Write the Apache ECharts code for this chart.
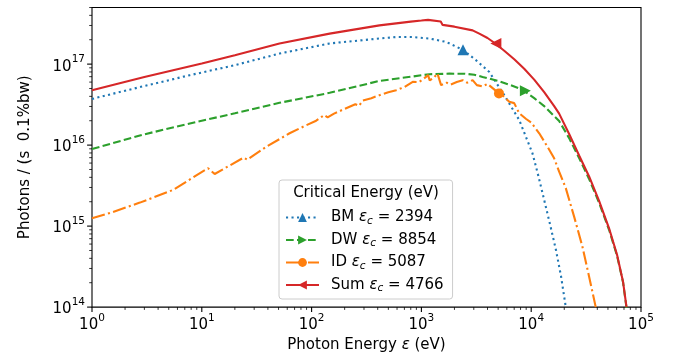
<!DOCTYPE html>
<html>
<head>
<meta charset="utf-8">
<script src="https://cdn.jsdelivr.net/npm/echarts@6/dist/echarts.min.js"></script>
<style>html,body{margin:0;padding:0;background:#fff;}#c{width:673px;height:358px;}</style>
</head>
<body>
<div id="c"></div>
<script>
// ---- Data (photon energy in eV, photons/(s 0.1%bw)) ----
const bmData = [
  [1, 3.72e16], [3, 5.37e16], [7.78, 7.3e16], [20, 9.7e16], [51, 1.35e17], [146, 1.8e17],
  [415, 2.07e17], [589, 2.16e17], [834, 2.16e17], [1183, 2.07e17], [1678, 1.88e17],
  [2394, 1.5e17], [3135, 1.12e17], [4150, 8.0e16], [5685, 4.14e16], [7780, 2.04e16],
  [10280, 7.9e15], [11600, 4.2e15], [13120, 2.11e15], [14800, 1.07e15], [16790, 5.1e14],
  [18700, 2.4e14], [20650, 1.0e14]
];
const dwData = [
  [1, 8.96e15], [3, 1.36e16], [7.78, 1.85e16], [20, 2.47e16], [51, 3.33e16], [146, 4.42e16],
  [415, 6.2e16], [1183, 7.5e16], [1800, 7.62e16], [2500, 7.6e16], [3033, 7.4e16], [3606, 6.95e16],
  [5000, 6.2e16], [6500, 5.5e16], [8280, 4.84e16], [10650, 3.8e16], [13130, 3.03e16],
  [16190, 2.28e16], [17970, 1.98e16], [22160, 1.22e16], [27320, 6.93e15], [33680, 3.82e15],
  [41520, 1.94e15], [51190, 9.0e14], [60510, 4.31e14], [68610, 2.03e14], [73800, 0.98e14]
];
const idData = [
  [1, 1.25e15], [1.5, 1.47e15], [2.73, 1.95e15], [5.49, 2.8e15], [8.1, 3.9e15], [11.4, 5.18e15],
  [13.1, 4.4e15], [24, 7.0e15], [26, 6.6e15], [38.7, 9.55e15], [63, 1.4e16], [77.8, 1.61e16],
  [110, 2.0e16], [130, 2.35e16], [140, 2.2e16], [160, 2.45e16], [200, 2.8e16], [250, 3.2e16],
  [270, 3.05e16], [293, 3.55e16], [350, 3.8e16], [415, 4.14e16], [500, 4.5e16], [589, 4.77e16],
  [700, 5.2e16], [834, 6.04e16], [950, 6.0e16], [1050, 6.6e16], [1150, 7.3e16], [1190, 6.3e16],
  [1300, 6.8e16], [1400, 7.66e16], [1511, 5.5e16], [1700, 5.9e16], [1850, 5.6e16], [2100, 6.0e16],
  [2375, 6.34e16], [2600, 5.9e16], [2927, 6.34e16], [3200, 5.5e16], [3600, 5.3e16], [4000, 5.7e16],
  [5087, 4.35e16], [5500, 4.1e16], [6310, 3.42e16], [7000, 3.3e16], [7780, 2.47e16], [9000, 2.1e16],
  [10000, 1.9e16], [11830, 1.4e16], [14070, 9.55e15], [16180, 6.87e15], [17970, 4.7e15],
  [20650, 2.94e15], [24600, 1.31e15], [29240, 5.61e14], [33650, 2.39e14], [38700, 1.0e14]
];
const sumData = [
  [1, 4.77e16], [3, 6.92e16], [10, 1.02e17], [20, 1.29e17], [51, 1.8e17], [146, 2.38e17],
  [415, 3.01e17], [800, 3.35e17], [1000, 3.45e17], [1150, 3.52e17], [1190, 3.42e17], [1500, 3.36e17],
  [1560, 3.05e17], [2000, 2.9e17], [2927, 2.61e17], [3366, 2.38e17], [4000, 2.1e17], [4610, 1.835e17],
  [5682, 1.462e17], [7007, 1.148e17], [8637, 8.77e16], [10650, 6.43e16], [13130, 4.51e16],
  [16190, 3.03e16], [17970, 2.45e16], [22160, 1.37e16], [27320, 7.45e15], [33680, 4.1e15],
  [41520, 2.05e15], [51190, 9.4e14], [60510, 4.43e14], [68610, 2.06e14], [73800, 1.0e14]
];
// critical-energy markers
const seriesNames = ['BM', 'DW', 'ID', 'Sum'];
const criticalE = [2394, 8854, 5087, 4766];
const markerF = [1.5e17, 4.7e16, 4.35e16, 1.8e17];

// axis ranges / tick values
const xMin = 1, xMax = 1e5, yMin = 1e14, yMax = 5e17;
const xMajor = [1, 10, 100, 1000, 10000, 100000];
const yMajor = [1e14, 1e15, 1e16, 1e17];
const minorMult = [2, 3, 4, 5, 6, 7, 8, 9];

const colors = ['#1f77b4', '#2ca02c', '#ff7f0e', '#d62728'];
const FONT = 'DejaVu Sans';
const FS = 15, FSS = 10.5;

const xTicks = [];
xMajor.forEach(v => xTicks.push([v, yMin, 1]));
xMajor.slice(0, -1).forEach(d => minorMult.forEach(m => xTicks.push([d * m, yMin, 0])));
const yTicks = [];
yMajor.forEach(v => yTicks.push([xMin, v, 1]));
yMajor.forEach(d => minorMult.forEach(m => { if (d * m <= yMax) yTicks.push([xMin, d * m, 0]); }));

function tickRenderer(isX) {
  return function (params, api) {
    const cs = params.coordSys;
    const major = api.value(2) === 1;
    const len = major ? 4.9 : 2.8;
    const lw = major ? 1.1 : 0.8;
    if (isX) {
      const px = api.coord([api.value(0), yMin])[0];
      const y0 = cs.y + cs.height;
      return { type: 'line', shape: { x1: px, y1: y0, x2: px, y2: y0 + len }, style: { stroke: '#000', lineWidth: lw } };
    } else {
      const py = api.coord([xMin, api.value(1)])[1];
      const x0 = cs.x;
      return { type: 'line', shape: { x1: x0, y1: py, x2: x0 - len, y2: py }, style: { stroke: '#000', lineWidth: lw } };
    }
  };
}

function powLabel(v) {
  const e = Math.round(Math.log10(v));
  return '{b|10}{s|' + e + '}';
}
const powRich = {
  b: { fontFamily: FONT, fontSize: FS, color: '#000', verticalAlign: 'bottom', lineHeight: 20 },
  s: { fontFamily: FONT, fontSize: FSS, color: '#000', verticalAlign: 'top', lineHeight: 20 }
};

const legendLabels = {
  BM: '{n|BM }{e|ε}{c|c}{n| = 2394}',
  DW: '{n|DW }{e|ε}{c|c}{n| = 8854}',
  ID: '{n|ID }{e|ε}{c|c}{n| = 5087}',
  Sum: '{n|Sum }{e|ε}{c|c}{n| = 4766}'
};

const lineTypes = [[2.1, 3.4], [7.7, 3.3], [13.3, 3.3, 2.1, 3.3], 'solid'];
const symbols = ['triangle', 'triangle', 'circle', 'triangle'];
const rotations = [0, -90, 0, 90];
const datasets = [bmData, dwData, idData, sumData];

const lineSeries = seriesNames.map((name, i) => ({
  name: name,
  type: 'line',
  data: datasets[i],
  showSymbol: false,
  symbol: symbols[i],
  symbolSize: 10,
  symbolRotate: rotations[i],
  smooth: false,
  z: i === 3 ? 3 : 2,
  lineStyle: { color: colors[i], width: 2.1, type: lineTypes[i] },
  itemStyle: { color: colors[i] },
  markPoint: {
    symbol: symbols[i],
    symbolSize: i === 2 ? 10 : 11,
    symbolRotate: rotations[i],
    label: { show: false },
    itemStyle: { color: colors[i] },
    data: [{ coord: [criticalE[i], markerF[i]] }]
  }
}));

const chart = echarts.init(document.getElementById('c'), null, { renderer: 'canvas' });
chart.setOption({
  animation: false,
  backgroundColor: '#fff',
  grid: { left: 92, right: 32, top: 7.5, bottom: 50.5, show: true, borderColor: '#000', borderWidth: 1.1, backgroundColor: 'transparent' },
  xAxis: {
    type: 'log', logBase: 10, min: xMin, max: xMax,
    name: '{n|Photon Energy }{e|ε}{n| (eV)}', nameLocation: 'middle', nameGap: 29,
    nameTextStyle: { rich: { n: { fontFamily: FONT, fontSize: FS, color: '#000' }, e: { fontFamily: FONT, fontSize: FS, fontStyle: 'italic', color: '#000' } } },
    axisLine: { show: false }, axisTick: { show: false }, splitLine: { show: false }, minorTick: { show: false },
    axisLabel: { formatter: powLabel, rich: powRich, margin: 6 }
  },
  yAxis: {
    type: 'log', logBase: 10, min: yMin, max: yMax,
    name: 'Photons / (s  0.1%bw)', nameLocation: 'middle', nameGap: 59,
    nameTextStyle: { fontFamily: FONT, fontSize: FS, color: '#000' },
    axisLine: { show: false }, axisTick: { show: false }, splitLine: { show: false }, minorTick: { show: false },
    axisLabel: { formatter: powLabel, rich: powRich, margin: 7, showMaxLabel: false }
  },
  legend: {
    orient: 'vertical', left: 279, top: 180,
    padding: [30, 9, 5, 6], itemWidth: 33, itemHeight: 11, itemGap: 6,
    backgroundColor: 'rgba(255,255,255,0.8)', borderColor: '#cccccc', borderWidth: 1, borderRadius: 3,
    data: seriesNames,
    formatter: name => legendLabels[name],
    textStyle: {
      fontFamily: FONT, fontSize: FS, color: '#000',
      rich: {
        n: { fontFamily: FONT, fontSize: FS, color: '#000' },
        e: { fontFamily: FONT, fontSize: FS, fontStyle: 'italic', color: '#000' },
        c: { fontFamily: FONT, fontSize: FSS, fontStyle: 'italic', color: '#000', verticalAlign: 'bottom', padding: [7, 0, 0, 0] }
      },
      padding: [0, 0, 0, 7]
    }
  },
  graphic: [{
    type: 'text', x: 366, y: 193, z: 100,
    style: { text: 'Critical Energy (eV)', font: FS + 'px "DejaVu Sans"', fill: '#000', align: 'center', verticalAlign: 'middle' }
  }],
  series: lineSeries.concat([
    { type: 'custom', name: 'xticks', data: xTicks, renderItem: tickRenderer(true), clip: false, silent: true, z: 10 },
    { type: 'custom', name: 'yticks', data: yTicks, renderItem: tickRenderer(false), clip: false, silent: true, z: 10 }
  ])
});
</script>
</body>
</html>
